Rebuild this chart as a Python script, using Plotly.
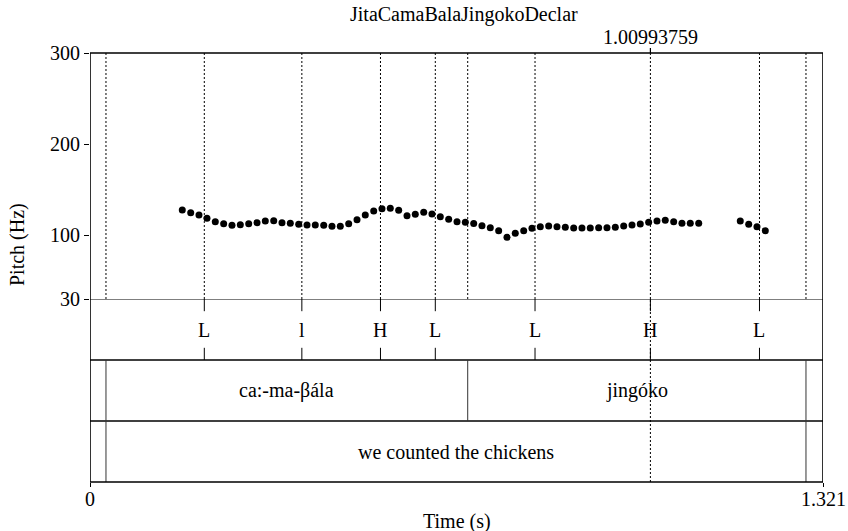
import plotly.graph_objects as go

# ---------------- data ----------------
title_text = "JitaCamaBalaJingokoDeclar"
x_max = 1.321
x_tick_vals = [0, 1.321]
x_tick_text = ["0", "1.321"]
y_tick_vals = [30, 100, 200, 300]
y_tick_text = ["30", "100", "200", "300"]

pitch_times = [0.1663, 0.1815, 0.1964, 0.2108, 0.2258, 0.2409, 0.2559, 0.2709,
               0.2860, 0.3010, 0.3159, 0.3311, 0.3460, 0.3610, 0.3761, 0.3911,
               0.4060, 0.4212, 0.4361, 0.4511, 0.4662, 0.4812, 0.4961, 0.5113,
               0.5262, 0.5412, 0.5563, 0.5713, 0.5862, 0.6014, 0.6163, 0.6313,
               0.6464, 0.6614, 0.6764, 0.6915, 0.7064, 0.7214, 0.7365, 0.7515,
               0.7664, 0.7816, 0.7965, 0.8115, 0.8266, 0.8416, 0.8566, 0.8717,
               0.8866, 0.9016, 0.9167, 0.9317, 0.9467, 0.9618, 0.9768, 0.9917,
               1.0068, 1.0218, 1.0367, 1.0519, 1.0668, 1.0818, 1.0970,
               1.1719, 1.1871, 1.2020, 1.2170]
pitch_hz = [127.7, 124.7, 122.2, 118.6, 114.8, 112.6, 110.9, 111.5,
            112.6, 113.7, 115.6, 115.9, 113.7, 113.1, 112.0, 111.2,
            111.2, 110.9, 109.8, 109.8, 112.6, 117.0, 122.2, 126.6,
            129.1, 129.5, 127.3, 121.4, 123.0, 125.2, 123.3, 120.3,
            117.5, 114.8, 114.2, 112.8, 110.4, 108.3, 105.0, 97.7,
            102.1, 105.0, 107.6, 109.3, 110.1, 109.3, 108.7, 107.9,
            107.9, 107.9, 108.2, 108.2, 108.7, 110.1, 111.2, 112.3,
            114.2, 115.6, 116.4, 114.8, 113.1, 113.1, 113.1,
            115.6, 112.0, 109.3, 105.0]

tone_times = [0.2060, 0.3818, 0.5235, 0.6223, 0.8020, 1.00993759, 1.2065]
tone_labels = ["L", "l", "H", "L", "L", "H", "L"]

word_bounds = [0.0288, 0.6807, 1.2903]
word_labels = ["ca:-ma-βála", "jingóko"]

phrase_bounds = [0.0288, 1.2903]
phrase_labels = ["we counted the chickens"]

cursor_time = 1.00993759
cursor_label = "1.00993759"

# ---------------- layout constants ----------------
FONT = "Liberation Serif"
FS = 20
W, H = 848, 531
ML, MR, MT, MB = 90, 25, 53, 49
plot_h = H - MT - MB
plot_w = W - ML - MR
pitch_frac = 246 / plot_h
split = 1 - pitch_frac

fig = go.Figure()

fig.add_trace(go.Scatter(
    x=pitch_times, y=pitch_hz, mode="markers",
    marker=dict(color="black", size=7, line=dict(width=0)),
    xaxis="x", yaxis="y", showlegend=False, hoverinfo="skip"))

shapes = []
dot = "2px,2px"
for t in sorted(set(tone_times + word_bounds + phrase_bounds)):
    shapes.append(dict(type="line", xref="x", yref="y", x0=t, x1=t, y0=30, y1=300,
                       line=dict(color="black", width=1, dash=dot)))
shapes.append(dict(type="line", xref="x", yref="y2", x0=cursor_time, x1=cursor_time,
                   y0=0, y1=3, line=dict(color="black", width=1, dash=dot)))
shapes.append(dict(type="line", xref="x", yref="paper", x0=cursor_time, x1=cursor_time,
                   y0=1, y1=1 + 5 / plot_h, line=dict(color="black", width=1.2)))
shapes.append(dict(type="line", xref="x", yref="y2", x0=0, x1=x_max, y0=3, y1=3,
                   line=dict(color="#555555", width=1.5)))
for yv in [2, 1]:
    shapes.append(dict(type="line", xref="x", yref="y2", x0=0, x1=x_max, y0=yv, y1=yv,
                       line=dict(color="black", width=1.5)))
for t in tone_times:
    shapes.append(dict(type="line", xref="x", yref="y2", x0=t, x1=t, y0=3, y1=2.8,
                       line=dict(color="black", width=1)))
    shapes.append(dict(type="line", xref="x", yref="y2", x0=t, x1=t, y0=2.2, y1=2.0,
                       line=dict(color="black", width=1)))
for t in word_bounds:
    shapes.append(dict(type="line", xref="x", yref="y2", x0=t, x1=t, y0=1, y1=2,
                       line=dict(color="#333333", width=1)))
for t in phrase_bounds:
    shapes.append(dict(type="line", xref="x", yref="y2", x0=t, x1=t, y0=0, y1=1,
                       line=dict(color="#333333", width=1)))
shapes.append(dict(type="rect", xref="x", yref="paper", x0=0, x1=x_max, y0=0, y1=1,
                   line=dict(color="black", width=1.6)))

ann = []
tf = dict(family=FONT, size=FS, color="black")
ann.append(dict(text=title_text, xref="paper", yref="paper", x=(464 - ML) / plot_w,
                y=(H - MB - 14) / plot_h, showarrow=False, font=tf,
                xanchor="center", yanchor="middle"))
ann.append(dict(text=cursor_label, xref="x", yref="paper", x=cursor_time,
                y=(H - MB - 37) / plot_h, showarrow=False, font=tf,
                xanchor="center", yanchor="middle"))
for t, lab in zip(tone_times, tone_labels):
    ann.append(dict(text=lab, xref="x", yref="y2", x=t, y=2.5, showarrow=False, font=tf,
                    xanchor="center", yanchor="middle"))
for i, lab in enumerate(word_labels):
    ann.append(dict(text=lab, xref="x", yref="y2", x=(word_bounds[i] + word_bounds[i + 1]) / 2,
                    y=1.5, showarrow=False, font=tf, xanchor="center", yanchor="middle"))
for i, lab in enumerate(phrase_labels):
    ann.append(dict(text=lab, xref="x", yref="y2", x=(phrase_bounds[i] + phrase_bounds[i + 1]) / 2,
                    y=0.5, showarrow=False, font=tf, xanchor="center", yanchor="middle"))
for tv, tt in zip(x_tick_vals, x_tick_text):
    ann.append(dict(text=tt, xref="x", yref="paper", x=tv, y=(H - MB - 499) / plot_h,
                    showarrow=False, font=tf, xanchor="center", yanchor="middle"))
ann.append(dict(text="Pitch (Hz)", xref="paper", yref="paper", x=(17 - ML) / plot_w,
                y=(H - MB - 245) / plot_h, showarrow=False, font=tf, textangle=-90,
                xanchor="center", yanchor="middle"))
ann.append(dict(text="Time (s)", xref="paper", yref="paper", x=0.5,
                y=(H - MB - 521) / plot_h, showarrow=False, font=tf,
                xanchor="center", yanchor="middle"))

fig.update_layout(
    width=W, height=H,
    margin=dict(l=ML, r=MR, t=MT, b=MB, pad=0, autoexpand=False),
    paper_bgcolor="white", plot_bgcolor="white",
    font=tf,
    shapes=shapes, annotations=ann,
    xaxis=dict(domain=[0, 1], range=[0, x_max], anchor="y2", tickvals=x_tick_vals,
               ticktext=x_tick_text, ticks="outside", ticklen=4, tickwidth=1.2,
               tickcolor="black", showgrid=False, zeroline=False, showline=False,
               showticklabels=False, automargin=False),
    yaxis=dict(domain=[split, 1], range=[30, 300], anchor="x", tickvals=y_tick_vals,
               ticktext=y_tick_text, ticks="outside", ticklen=5, tickwidth=1.2,
               tickcolor="black", showgrid=False, zeroline=False, showline=False,
               tickfont=tf, automargin=False),
    yaxis2=dict(domain=[0, split], range=[0, 3], anchor="x", visible=False,
                showgrid=False, zeroline=False),
    showlegend=False,
)

fig.write_html("out.html")
